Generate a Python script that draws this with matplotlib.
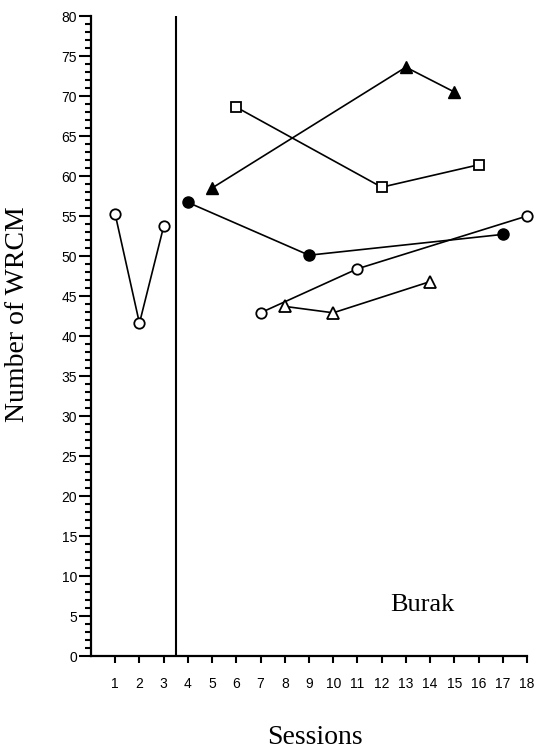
import matplotlib
matplotlib.use("Agg")
import matplotlib.pyplot as plt
from matplotlib.ticker import MultipleLocator

# Data
baseline_x = [1, 2, 3]
baseline_y = [55.2, 41.6, 53.7]

fcirc_x = [4, 9, 17]
fcirc_y = [56.7, 50.1, 52.7]

ftri_x = [5, 13, 15]
ftri_y = [58.5, 73.6, 70.5]

osq_x = [6, 12, 16]
osq_y = [68.6, 58.6, 61.4]

ocirc_x = [7, 11, 18]
ocirc_y = [42.9, 48.4, 55.0]

otri_x = [8, 10, 14]
otri_y = [43.7, 42.9, 46.8]

sessions = list(range(1, 19))
phase_line = 3.5

W, H = 541, 752
fig = plt.figure(figsize=(W / 100, H / 100), dpi=100)
ax = fig.add_axes([91 / W, (H - 656) / H, 436 / W, 640 / H])

lw = 1.2
common = dict(color="black", lw=lw, clip_on=False, zorder=3)
ax.plot(baseline_x, baseline_y, marker="o", ms=7.5, mfc="white", mec="black", mew=1.3, **common)
ax.plot(fcirc_x, fcirc_y, marker="o", ms=8, mfc="black", mec="black", **common)
ax.plot(ftri_x, ftri_y, marker="^", ms=8.5, mfc="black", mec="black", **common)
ax.plot(osq_x, osq_y, marker="s", ms=6.5, mfc="white", mec="black", mew=1.3, **common)
ax.plot(ocirc_x, ocirc_y, marker="o", ms=7.5, mfc="white", mec="black", mew=1.3, **common)
ax.plot(otri_x, otri_y, marker="^", ms=8.5, mfc="white", mec="black", mew=1.3, **common)

ax.axvline(phase_line, color="black", lw=1.5, ymin=0, ymax=1)

ax.set_xlim(0, 18)
ax.set_ylim(0, 80)
ax.spines["top"].set_visible(False)
ax.spines["right"].set_visible(False)
ax.spines["left"].set_linewidth(1.6)
ax.spines["bottom"].set_linewidth(1.6)

ax.set_xticks(sessions)
ax.set_xticklabels([str(s) for s in sessions], fontfamily="Liberation Sans", fontsize=10)
ax.yaxis.set_major_locator(MultipleLocator(5))
ax.yaxis.set_minor_locator(MultipleLocator(1))
ax.set_yticklabels([str(int(v)) for v in ax.get_yticks()], fontfamily="Liberation Sans", fontsize=10)
ax.tick_params(axis="y", which="major", length=9, width=1.5, direction="out", pad=1)
ax.tick_params(axis="y", which="minor", length=4, width=1.5, direction="out")
ax.tick_params(axis="x", which="major", length=5, width=1.5, direction="out", pad=10)

fig.text(18 / W, 1 - 314 / H, "Number of WRCM", rotation=90, ha="center", va="center",
         fontfamily="Liberation Serif", fontsize=20)
fig.text(315 / W, 1 - 738 / H, "Sessions", ha="center", va="center",
         fontfamily="Liberation Serif", fontsize=20)
fig.text(422 / W, 1 - 605 / H, "Burak", ha="center", va="center",
         fontfamily="Liberation Serif", fontsize=19)

fig.savefig("out.png", dpi=100)
